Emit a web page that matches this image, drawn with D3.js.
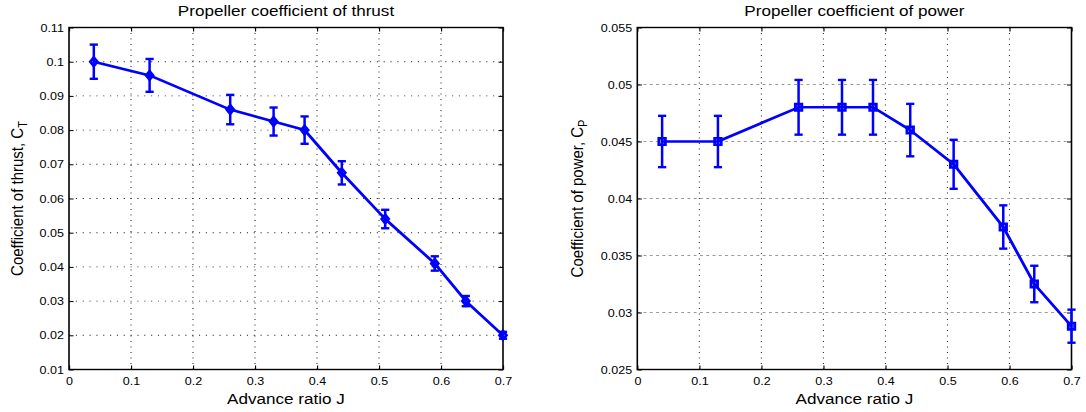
<!DOCTYPE html>
<html>
<head>
<meta charset="utf-8">
<script src="https://cdn.jsdelivr.net/npm/d3@7"></script>
<style>
  html, body { margin: 0; padding: 0; background: #fff; }
  text { font-family: "Liberation Sans", Arial, sans-serif; fill: #000; }
</style>
</head>
<body>
<div id="graphic"></div>
<script>
// advance ratio J (shared by both plots)
var advance = [0.04, 0.13, 0.26, 0.33, 0.38, 0.44, 0.51, 0.59, 0.64, 0.70];

// thrust coefficient and its error
var thrust = [0.100, 0.096, 0.086, 0.0825, 0.080, 0.0675, 0.054, 0.041, 0.030, 0.020];
var thrustErr = [0.005, 0.0048, 0.0043, 0.0041, 0.004, 0.0034, 0.0027, 0.0021, 0.0015, 0.001];

// power coefficient and its error
var power = [0.045, 0.045, 0.048, 0.048, 0.048, 0.046, 0.043, 0.0375, 0.0325, 0.0288];
var powerErr = [0.00225, 0.00225, 0.0024, 0.0024, 0.0024, 0.0023, 0.00215, 0.0019, 0.0016, 0.00145];

// tick labels
var xTicks = [0, 0.1, 0.2, 0.3, 0.4, 0.5, 0.6, 0.7];
var thrustTicks = [0.01, 0.02, 0.03, 0.04, 0.05, 0.06, 0.07, 0.08, 0.09, 0.1, 0.11];
var powerTicks = [0.025, 0.03, 0.035, 0.04, 0.045, 0.05, 0.055];

var W = 1086, H = 412, sx = 1.14;   // picture is stretched horizontally
var blue = "#0000ff";

var svg = d3.select("#graphic").append("svg")
  .attr("width", W).attr("height", H)
  .attr("viewBox", "0 0 " + (W / sx) + " " + H)
  .attr("preserveAspectRatio", "none");

function panel(opt) {
  var x0 = opt.left / sx, x1 = opt.right / sx, y0 = 27.5, y1 = 369.5;
  var x = d3.scaleLinear().domain([0, 0.7]).range([x0, x1]);
  var y = d3.scaleLinear().domain(opt.domain).range([y1, y0]);
  var g = svg.append("g");

  // grid
  g.selectAll(".vg").data(xTicks.slice(1, -1)).enter().append("line")
    .attr("x1", x).attr("x2", x).attr("y1", y0).attr("y2", y1)
    .attr("stroke", "#222").attr("stroke-width", 0.9).attr("stroke-dasharray", "1,4.5");
  g.selectAll(".hg").data(opt.ticks.slice(1, -1)).enter().append("line")
    .attr("x1", x0).attr("x2", x1).attr("y1", y).attr("y2", y)
    .attr("stroke", opt.hgrid).attr("stroke-width", 0.9).attr("stroke-dasharray", opt.hdash);

  // axes (ticks inward)
  var fmt = function(d) { return String(+d.toFixed(4)); };
  var bx = g.append("g").attr("transform", "translate(0," + y1 + ")")
    .call(d3.axisBottom(x).tickValues(xTicks).tickSize(-4).tickSizeOuter(0).tickPadding(8).tickFormat(fmt));
  var tx = g.append("g").attr("transform", "translate(0," + y0 + ")")
    .call(d3.axisTop(x).tickValues(xTicks).tickSize(-4).tickSizeOuter(0).tickFormat(""));
  var ly = g.append("g").attr("transform", "translate(" + x0 + ",0)")
    .call(d3.axisLeft(y).tickValues(opt.ticks).tickSize(-4).tickSizeOuter(0).tickPadding(4.5).tickFormat(fmt));
  var ry = g.append("g").attr("transform", "translate(" + x1 + ",0)")
    .call(d3.axisRight(y).tickValues(opt.ticks).tickSize(-4).tickSizeOuter(0).tickFormat(""));
  [bx, tx, ly, ry].forEach(function(a) {
    a.select(".domain").remove();
    a.selectAll("line").attr("stroke", "#000");
    a.selectAll("text").attr("font-size", 11).attr("font-family", "Liberation Sans, Arial, sans-serif");
  });

  g.append("rect").attr("x", x0).attr("y", y0).attr("width", x1 - x0).attr("height", y1 - y0)
    .attr("fill", "none").attr("stroke", "#000").attr("stroke-width", 1.4);

  // series
  var pts = advance.map(function(j, i) { return { j: j, v: opt.values[i], e: opt.errors[i] }; });
  g.append("path").datum(pts)
    .attr("d", d3.line().x(function(d) { return x(d.j); }).y(function(d) { return y(d.v); }))
    .attr("fill", "none").attr("stroke", blue).attr("stroke-width", 2.6).attr("stroke-linejoin", "round");

  var cw = 3.6;
  var eb = g.selectAll(".eb").data(pts).enter().append("g");
  eb.append("line")
    .attr("x1", function(d) { return x(d.j); }).attr("x2", function(d) { return x(d.j); })
    .attr("y1", function(d) { return y(d.v - d.e); }).attr("y2", function(d) { return y(d.v + d.e); })
    .attr("stroke", blue).attr("stroke-width", 2.2);
  [-1, 1].forEach(function(s) {
    eb.append("line")
      .attr("x1", function(d) { return x(d.j) - cw; }).attr("x2", function(d) { return x(d.j) + cw; })
      .attr("y1", function(d) { return y(d.v + s * d.e); }).attr("y2", function(d) { return y(d.v + s * d.e); })
      .attr("stroke", blue).attr("stroke-width", 2.4);
  });

  g.selectAll(".mk").data(pts).enter().append("path")
    .attr("transform", function(d) { return "translate(" + x(d.j) + "," + y(d.v) + ")"; })
    .attr("d", opt.marker)
    .attr("fill", "none").attr("stroke", blue).attr("stroke-width", 2.6);

  // labels
  var cx = (x0 + x1) / 2;
  g.append("text").attr("x", cx).attr("y", 16).attr("text-anchor", "middle")
    .attr("font-size", 15).text(opt.title);
  g.append("text").attr("x", cx).attr("y", 404).attr("text-anchor", "middle")
    .attr("font-size", 15).text("Advance ratio J");
  var yl = g.append("text")
    .attr("transform", "translate(" + (opt.ylabelX / sx) + "," + ((y0 + y1) / 2) + ") rotate(-90)")
    .attr("text-anchor", "middle").attr("font-size", 15);
  yl.append("tspan").text(opt.ylabel);
  yl.append("tspan").attr("font-size", 11).attr("dy", 4).text(opt.sub);
}

panel({
  left: 69, right: 503, domain: [0.01, 0.11], ticks: thrustTicks,
  values: thrust, errors: thrustErr,
  hgrid: "#222", hdash: "1,5",
  marker: "M0,-4.2L3,0L0,4.2L-3,0Z",
  title: "Propeller coefficient of thrust",
  ylabel: "Coefficient of thrust, C", sub: "T", ylabelX: 22.7
});

panel({
  left: 637.3, right: 1071.5, domain: [0.025, 0.055], ticks: powerTicks,
  values: power, errors: powerErr,
  hgrid: "#999", hdash: "2.5,3",
  marker: "M-2.8,-3.2H2.8V3.2H-2.8Z",
  title: "Propeller coefficient of power",
  ylabel: "Coefficient of power, C", sub: "P", ylabelX: 582.7
});
</script>
</body>
</html>
